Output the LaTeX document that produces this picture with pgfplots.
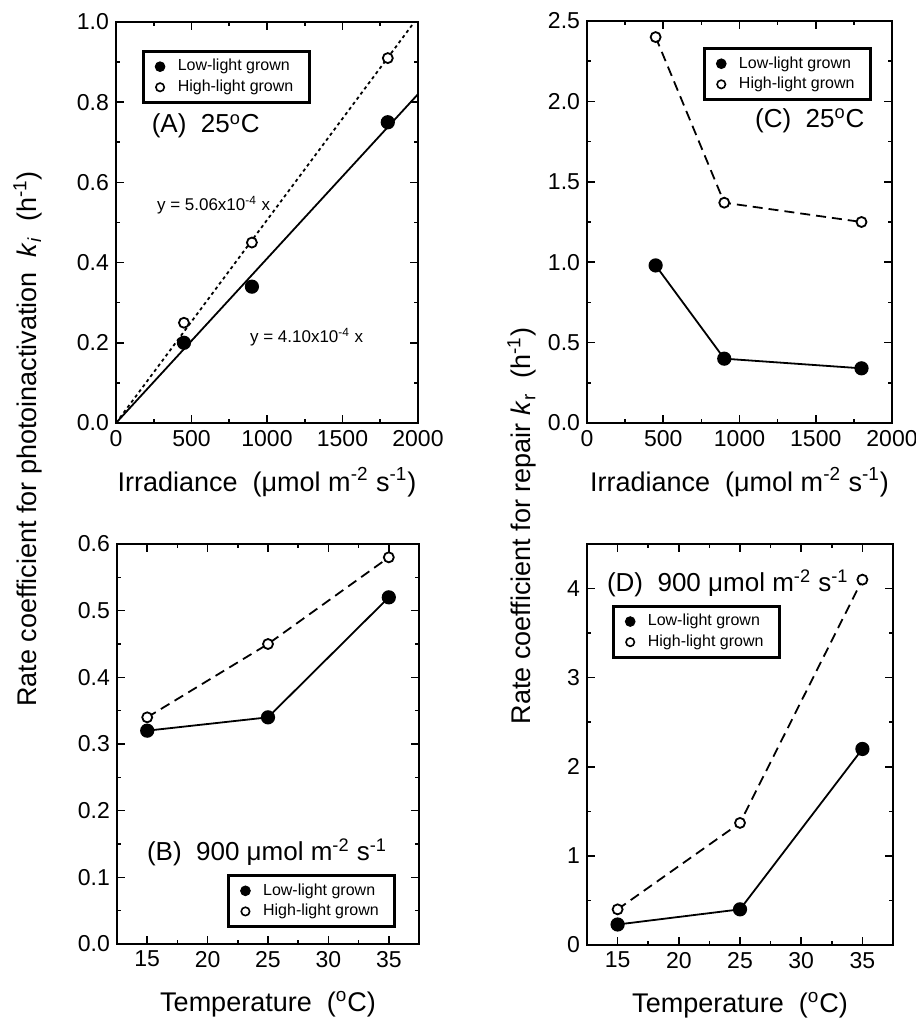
\documentclass[border=0pt]{standalone}
\usepackage{pgfplots}
\pgfplotsset{compat=1.18}
\usepackage{fontspec}
\setmainfont{Liberation Sans}

\newcommand{\sups}[1]{\textsuperscript{#1}}

\pgfplotsset{
  panel/.style={
    scale only axis,
    anchor=north west,
    tick align=inside,
    minor tick num=1,
    major tick length=4pt,
    minor tick length=2.2pt,
    axis line style={line width=1pt},
    every tick/.style={black, line width=0.8pt},
    ticklabel style={font=\fontsize{11.5}{13}\selectfont},
    /pgf/number format/assume math mode=true,
    /pgf/number format/set thousands separator={},
    label style={font=\fontsize{13.5}{16}\selectfont},
    x label style={at={(axis description cs:0.5,0)}, anchor=center},
    legend style={font=\fontsize{8}{9.5}\selectfont, draw=black, line width=1.3pt,
      inner xsep=6pt, inner ysep=2pt, row sep=-1pt, cells={anchor=west}},
    legend cell align=left,
  },
  low/.style={black, line width=0.9pt, solid, mark=*, mark size=3.1pt, mark options={solid, fill=black}},
  high/.style={black, line width=0.9pt, dash pattern=on 5pt off 3pt, mark=*, mark size=2.5pt, mark options={solid, fill=white, line width=0.9pt}},
  lowleg/.style={only marks, mark=*, mark size=2.4pt, mark options={fill=black, line width=0.5pt}},
  highleg/.style={only marks, mark=*, mark size=2.1pt, mark options={fill=white, line width=0.8pt}},
}

\begin{document}
\begin{tikzpicture}
\path[use as bounding box] (0,0) rectangle (457.5pt,-510.5pt);

% (A) photoinactivation vs irradiance
\begin{axis}[panel,
  at={(58pt,-11pt)}, width=151pt, height=200.5pt,
  xmin=0, xmax=2000, ymin=0, ymax=1,
  xtick={0,500,1000,1500,2000},
  ytick={0,0.2,0.4,0.6,0.8,1.0},
  yticklabel style={/pgf/number format/.cd, fixed, fixed zerofill, precision=1},
  xlabel={Irradiance\ \ (μmol m\sups{-2} s\sups{-1})},
  x label style={yshift=-29.5pt},
  legend style={at={(rel axis cs:0.086,0.93)}, anchor=north west},
]
\addlegendimage{lowleg}
\addlegendimage{highleg}
\legend{\ \ Low-light grown, \ \ High-light grown}
\addplot[black, line width=0.9pt, forget plot] coordinates {(0,0) (2000,0.82)};
\addplot[black, line width=0.9pt, dash pattern=on 1.6pt off 1.6pt, forget plot] coordinates {(0,0) (1976,1.0)};
\addplot[low, only marks, forget plot] coordinates {(450,0.20) (900,0.34) (1800,0.75)};
\addplot[high, only marks, forget plot] coordinates {(450,0.25) (900,0.45) (1800,0.91)};
\node[anchor=west, font=\fontsize{13}{15}\selectfont] at (axis cs:190,0.74) {(A)\ \ 25\sups{o}C};
\node[anchor=west, font=\fontsize{8.5}{10}\selectfont] at (axis cs:225,0.544) {y = 5.06x10\sups{-4} x};
\node[anchor=west, font=\fontsize{8.5}{10}\selectfont] at (axis cs:841,0.214) {y = 4.10x10\sups{-4} x};
\end{axis}

% (C) repair vs irradiance
\begin{axis}[panel,
  at={(293.5pt,-10.5pt)}, width=152.5pt, height=201pt,
  xmin=0, xmax=2000, ymin=0, ymax=2.5,
  xtick={0,500,1000,1500,2000},
  ytick={0,0.5,1.0,1.5,2.0,2.5},
  yticklabel style={/pgf/number format/.cd, fixed, fixed zerofill, precision=1},
  xlabel={Irradiance\ \ (μmol m\sups{-2} s\sups{-1})},
  x label style={yshift=-29.5pt},
  legend style={at={(rel axis cs:0.934,0.935)}, anchor=north east},
]
\addlegendimage{lowleg}
\addlegendimage{highleg}
\legend{\ \ Low-light grown, \ \ High-light grown}
\addplot[high, forget plot] coordinates {(450,2.40) (900,1.37) (1800,1.25)};
\addplot[low, forget plot] coordinates {(450,0.98) (900,0.40) (1800,0.34)};
\node[anchor=west, font=\fontsize{13}{15}\selectfont] at (axis cs:1056,1.88) {(C)\ \ 25\sups{o}C};
\end{axis}

% (B) photoinactivation vs temperature
\begin{axis}[panel,
  at={(58.5pt,-272pt)}, width=151pt, height=200pt,
  xmin=12.5, xmax=37.5, ymin=0, ymax=0.6,
  xtick={15,20,25,30,35},
  ytick={0,0.1,0.2,0.3,0.4,0.5,0.6},
  yticklabel style={/pgf/number format/.cd, fixed, fixed zerofill, precision=1},
  xlabel={Temperature\ \ (\sups{o}C)},
  x label style={yshift=-30pt},
  legend style={at={(rel axis cs:0.924,0.04)}, anchor=south east},
]
\addlegendimage{lowleg}
\addlegendimage{highleg}
\legend{\ \ Low-light grown, \ \ High-light grown}
\addplot[high, forget plot] coordinates {(15,0.34) (25,0.45) (35,0.58)};
\addplot[low, forget plot] coordinates {(15,0.32) (25,0.34) (35,0.52)};
\node[anchor=west, font=\fontsize{13}{15}\selectfont] at (axis cs:14.4,0.138) {(B)\ \ 900 μmol m\sups{-2} s\sups{-1}};
\end{axis}

% (D) repair vs temperature
\begin{axis}[panel,
  at={(293.5pt,-272pt)}, width=153pt, height=200.5pt,
  xmin=12.5, xmax=37.5, ymin=0, ymax=4.5,
  xtick={15,20,25,30,35},
  ytick={0,1,2,3,4},
  xlabel={Temperature\ \ (\sups{o}C)},
  x label style={yshift=-30pt},
  legend style={at={(rel axis cs:0.082,0.848)}, anchor=north west},
]
\addlegendimage{lowleg}
\addlegendimage{highleg}
\legend{\ \ Low-light grown, \ \ High-light grown}
\addplot[high, forget plot] coordinates {(15,0.40) (25,1.37) (35,4.10)};
\addplot[low, forget plot] coordinates {(15,0.23) (25,0.40) (35,2.20)};
\node[anchor=west, font=\fontsize{13}{15}\selectfont] at (axis cs:13.56,4.06) {(D)\ \ 900 μmol m\sups{-2} s\sups{-1}};
\end{axis}

\node[rotate=90, font=\fontsize{13.5}{16}\selectfont] at (14pt,-219.5pt)
  {Rate coefficient for photoinactivation\ \ \textit{k}\textsubscript{\textit{i}}\ \ (h\sups{-1})};
\node[rotate=90, font=\fontsize{13.5}{16}\selectfont] at (261pt,-263pt)
  {Rate coefficient for repair \textit{k}\textsubscript{r}\ \ (h\sups{-1})};
\end{tikzpicture}
\end{document}
